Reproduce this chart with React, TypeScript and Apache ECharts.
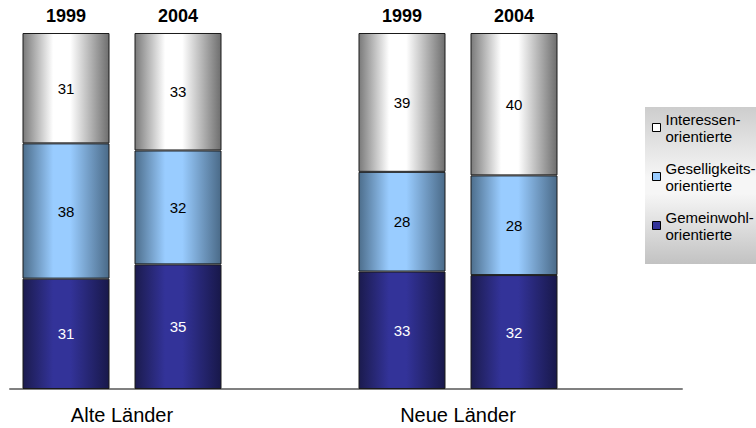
import React, { useEffect, useRef } from "react";
import * as echarts from "echarts";

const categories = ["1999", "2004", "", "1999", "2004", ""];
const groupLabels = ["Alte Länder", "Neue Länder"];
const groupCenters = [1, 4];
const seriesNames = ["Gemeinwohl-orientierte", "Geselligkeits-orientierte", "Interessen-orientierte"];
const legendLabels: Record<string, string> = {
  "Interessen-orientierte": "Interessen-\norientierte",
  "Geselligkeits-orientierte": "Geselligkeits-\norientierte",
  "Gemeinwohl-orientierte": "Gemeinwohl-\norientierte",
};
const gemeinwohl = [31, 35, null, 33, 32, null];
const geselligkeit = [38, 32, null, 28, 28, null];
const interessen = [31, 33, null, 39, 40, null];

const FONT = "'Liberation Sans', Arial, Helvetica, sans-serif";

const hGrad = (edgeL: string, mid: string, edgeR: string) =>
  new echarts.graphic.LinearGradient(0, 0, 1, 0, [
    { offset: 0, color: edgeL },
    { offset: 0.35, color: mid },
    { offset: 0.55, color: mid },
    { offset: 1, color: edgeR },
  ]);

export default function App() {
  const ref = useRef<HTMLDivElement>(null);
  useEffect(() => {
    if (!ref.current) return;
    const chart = echarts.init(ref.current, undefined, { renderer: "svg" });
    const labelBase = { show: true, position: "inside", fontSize: 15, fontFamily: FONT };
    const option: any = {
      animation: false,
      backgroundColor: "#ffffff",
      textStyle: { fontFamily: FONT },
      grid: { left: 10, top: 33, width: 672, height: 356, containLabel: false },
      graphic: [
        {
          type: "rect",
          z: -1,
          shape: { x: 645, y: 107, width: 120, height: 157 },
          style: {
            fill: new echarts.graphic.LinearGradient(0, 0, 0, 1, [
              { offset: 0, color: "#cdcdcd" },
              { offset: 0.45, color: "#f6f6f6" },
              { offset: 0.55, color: "#f6f6f6" },
              { offset: 1, color: "#c2c2c2" },
            ]),
          },
        },
      ],
      legend: {
        orient: "vertical",
        left: 652,
        top: 102,
        padding: 0,
        itemGap: -2,
        itemWidth: 8,
        itemHeight: 8,
        textGap: 6,
        itemStyle: { borderColor: "#000", borderWidth: 1 },
        icon: "rect",
        formatter: (n: string) => legendLabels[n] || n,
        textStyle: { fontSize: 15, lineHeight: 17, color: "#000", fontFamily: FONT, padding: [17, 0, 0, 0] },
        data: [
          { name: seriesNames[2], itemStyle: { color: "#ffffff", borderColor: "#000", borderWidth: 1 } },
          { name: seriesNames[1], itemStyle: { color: "#99ccff", borderColor: "#000", borderWidth: 1 } },
          { name: seriesNames[0], itemStyle: { color: "#333399", borderColor: "#000", borderWidth: 1 } },
        ],
      },
      xAxis: [
        {
          type: "category",
          data: categories,
          position: "bottom",
          axisLine: { show: true, lineStyle: { color: "#808080", width: 2 } },
          axisTick: { show: false },
          axisLabel: { show: false },
        },
        {
          type: "category",
          data: categories,
          position: "top",
          axisLine: { show: false },
          axisTick: { show: false },
          axisLabel: { fontSize: 18, fontWeight: "bold", color: "#000", margin: 8, fontFamily: FONT },
        },
        {
          type: "value",
          min: 0,
          max: 6,
          interval: 1,
          position: "bottom",
          axisLine: { show: false },
          axisTick: { show: false },
          splitLine: { show: false },
          axisLabel: {
            fontSize: 20,
            color: "#000",
            margin: 16,
            fontFamily: FONT,
            showMinLabel: true,
            showMaxLabel: true,
            formatter: (v: number) => {
              const i = groupCenters.indexOf(v);
              return i >= 0 ? groupLabels[i] : "";
            },
          },
        },
      ],
      yAxis: { type: "value", min: 0, max: 100, show: false, splitLine: { show: false } },
      series: [
        {
          name: seriesNames[0],
          type: "bar",
          stack: "total",
          barWidth: 87,
          data: gemeinwohl,
          itemStyle: { color: hGrad("#1b1b4e", "#333399", "#18184a"), borderColor: "#1a1a1a", borderWidth: 1 },
          label: { ...labelBase, color: "#ffffff" },
        },
        {
          name: seriesNames[1],
          type: "bar",
          stack: "total",
          barWidth: 87,
          data: geselligkeit,
          itemStyle: { color: hGrad("#4d6e8c", "#99ccff", "#4a6a88"), borderColor: "#1a1a1a", borderWidth: 1 },
          label: { ...labelBase, color: "#000000" },
        },
        {
          name: seriesNames[2],
          type: "bar",
          stack: "total",
          barWidth: 87,
          data: interessen,
          itemStyle: { color: hGrad("#7a7a7a", "#ffffff", "#6e6e6e"), borderColor: "#1a1a1a", borderWidth: 1 },
          label: { ...labelBase, color: "#000000" },
        },
      ],
    };
    chart.setOption(option);
    return () => chart.dispose();
  }, []);
  return (
    <div
      ref={ref}
      style={{ position: "absolute", left: 0, top: 0, width: 756, height: 428 }}
    />
  );
}
